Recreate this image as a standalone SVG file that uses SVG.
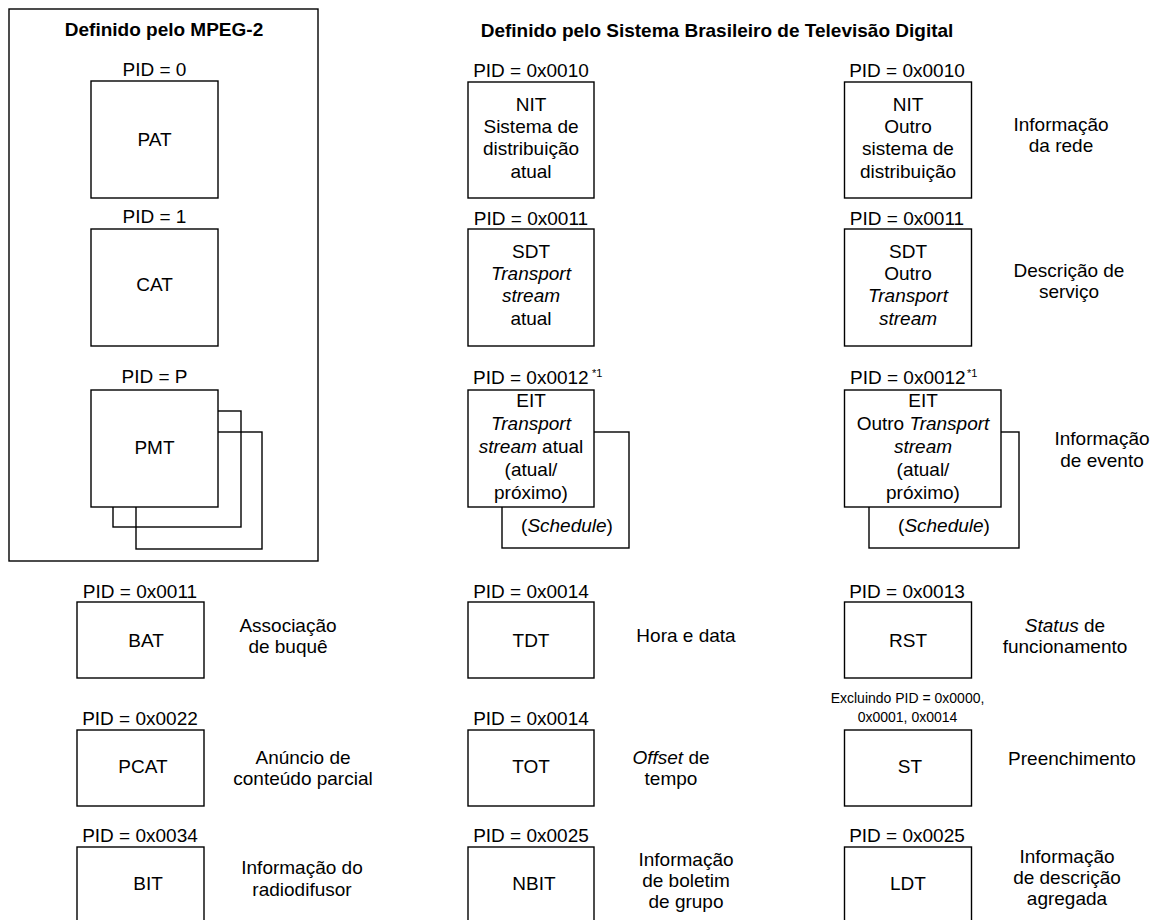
<svg xmlns="http://www.w3.org/2000/svg" width="1158" height="920" viewBox="0 0 1158 920">
<style>
text{font-family:"Liberation Sans",Arial,sans-serif;font-size:19px;fill:#000;text-anchor:middle}
.t{font-weight:bold}
.s{font-size:14px}
.sup{font-size:11px;text-anchor:start}
.st{text-anchor:start}
.i{font-style:italic}
.b{fill:#fff;stroke:#000;stroke-width:1.4}
.o{fill:none;stroke:#000;stroke-width:1.4}
</style>
<rect width="1158" height="920" fill="#fff"/>
<g id="frame-mpeg2">
<rect class="o" x="9" y="9" width="309" height="552"/>
<text class="t" x="164" y="36">Definido pelo MPEG-2</text>
</g>
<text class="t" x="717" y="37">Definido pelo Sistema Brasileiro de Televisão Digital</text>
<g id="connectors"></g>
<g id="pat">
<text x="154.5" y="76">PID = 0</text>
<rect class="b" x="91" y="81" width="127" height="117"/>
<text x="154.5" y="146">PAT</text>
</g>
<g id="cat">
<text x="154.5" y="223">PID = 1</text>
<rect class="b" x="91" y="229" width="127" height="117"/>
<text x="154.5" y="291">CAT</text>
</g>
<g id="pmt">
<text x="154.5" y="383">PID = P</text>
<rect class="o" x="136" y="432" width="126" height="117"/>
<rect class="o" x="113" y="411" width="128" height="116"/>
<rect class="b" x="91" y="390" width="127" height="117"/>
<text x="154.5" y="454">PMT</text>
</g>
<g id="nit-atual">
<text x="531" y="77">PID = 0x0010</text>
<rect class="b" x="468" y="82" width="126" height="116"/>
<text x="531" y="111">NIT</text>
<text x="531" y="133">Sistema de</text>
<text x="531" y="155">distribuição</text>
<text x="531" y="178">atual</text>
</g>
<g id="nit-outro">
<text x="907" y="77">PID = 0x0010</text>
<rect class="b" x="844.5" y="82" width="127" height="116"/>
<text x="908" y="111">NIT</text>
<text x="908" y="133">Outro</text>
<text x="908" y="155">sistema de</text>
<text x="908" y="178">distribuição</text>
<text x="1061" y="131">Informação</text>
<text x="1061" y="152">da rede</text>
</g>
<g id="sdt-atual">
<text x="531" y="225">PID = 0x0011</text>
<rect class="b" x="468" y="229" width="126" height="117"/>
<text x="531" y="258">SDT</text>
<text x="531" y="280" class="i">Transport</text>
<text x="531" y="302" class="i">stream</text>
<text x="531" y="325">atual</text>
</g>
<g id="sdt-outro">
<text x="907" y="225">PID = 0x0011</text>
<rect class="b" x="844.5" y="229" width="127" height="117"/>
<text x="908" y="258">SDT</text>
<text x="908" y="280">Outro</text>
<text x="908" y="302" class="i">Transport</text>
<text x="908" y="325" class="i">stream</text>
<text x="1069" y="277">Descrição de</text>
<text x="1069" y="298">serviço</text>
</g>
<g id="eit-atual">
<text x="473" y="384" class="st">PID = 0x0012</text>
<text x="592" y="377" class="sup">*1</text>
<rect class="o" x="502" y="432" width="127" height="116"/>
<rect class="b" x="468" y="390" width="126" height="117"/>
<text x="531" y="407">EIT</text>
<text x="531" y="430" class="i">Transport</text>
<text x="531" y="453"><tspan class="i">stream</tspan> atual</text>
<text x="531" y="476">(atual/</text>
<text x="531" y="499">próximo)</text>
<text x="567" y="532">(<tspan class="i">Schedule</tspan>)</text>
</g>
<g id="eit-outro">
<text x="850" y="384" class="st">PID = 0x0012</text>
<text x="967" y="377" class="sup">*1</text>
<rect class="o" x="869" y="432" width="150" height="116"/>
<rect class="b" x="844.5" y="390" width="156.5" height="117"/>
<text x="923" y="407">EIT</text>
<text x="923" y="430">Outro <tspan class="i">Transport</tspan></text>
<text x="923" y="453" class="i">stream</text>
<text x="923" y="476">(atual/</text>
<text x="923" y="499">próximo)</text>
<text x="944" y="532">(<tspan class="i">Schedule</tspan>)</text>
<text x="1102" y="445">Informação</text>
<text x="1102" y="467">de evento</text>
</g>
<g id="bat">
<text x="140" y="598">PID = 0x0011</text>
<rect class="b" x="77" y="602" width="127" height="76"/>
<text x="146" y="647">BAT</text>
<text x="288" y="632">Associação</text>
<text x="288" y="653">de buquê</text>
</g>
<g id="pcat">
<text x="140" y="725">PID = 0x0022</text>
<rect class="b" x="77" y="730" width="127" height="76"/>
<text x="143" y="773">PCAT</text>
<text x="303" y="764">Anúncio de</text>
<text x="303" y="785">conteúdo parcial</text>
</g>
<g id="bit">
<text x="140" y="842">PID = 0x0034</text>
<rect class="b" x="77" y="847" width="127" height="80"/>
<text x="148" y="890">BIT</text>
<text x="302" y="874">Informação do</text>
<text x="302" y="896">radiodifusor</text>
</g>
<g id="tdt">
<text x="531" y="598">PID = 0x0014</text>
<rect class="b" x="468" y="602" width="126" height="76"/>
<text x="531" y="647">TDT</text>
<text x="686" y="642">Hora e data</text>
</g>
<g id="tot">
<text x="531" y="725">PID = 0x0014</text>
<rect class="b" x="468" y="730" width="126" height="76"/>
<text x="531" y="773">TOT</text>
<text x="671" y="764"><tspan class="i">Offset</tspan> de</text>
<text x="671" y="785">tempo</text>
</g>
<g id="nbit">
<text x="531" y="842">PID = 0x0025</text>
<rect class="b" x="468" y="847" width="126" height="80"/>
<text x="534" y="890">NBIT</text>
<text x="686" y="866">Informação</text>
<text x="686" y="887">de boletim</text>
<text x="686" y="908">de grupo</text>
</g>
<g id="rst">
<text x="907" y="598">PID = 0x0013</text>
<rect class="b" x="844.5" y="602" width="127" height="76"/>
<text x="908" y="647">RST</text>
<text x="1065" y="632"><tspan class="i">Status</tspan> de</text>
<text x="1065" y="653">funcionamento</text>
</g>
<g id="st">
<text x="907.5" y="703" class="s">Excluindo PID = 0x0000,</text>
<text x="907.5" y="722" class="s">0x0001, 0x0014</text>
<rect class="b" x="844.5" y="730" width="127" height="76"/>
<text x="910" y="773">ST</text>
<text x="1072" y="765">Preenchimento</text>
</g>
<g id="ldt">
<text x="907" y="842">PID = 0x0025</text>
<rect class="b" x="844.5" y="847" width="127" height="80"/>
<text x="908" y="890">LDT</text>
<text x="1067" y="863">Informação</text>
<text x="1067" y="884">de descrição</text>
<text x="1067" y="905">agregada</text>
</g>
</svg>
